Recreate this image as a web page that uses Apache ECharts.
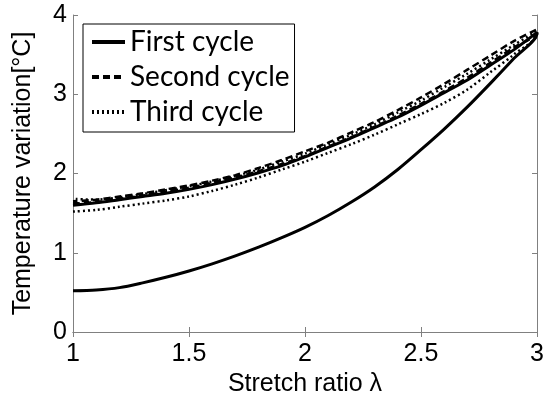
<!DOCTYPE html>
<html>
<head>
<meta charset="utf-8">
<script src="https://cdn.jsdelivr.net/npm/echarts@6/dist/echarts.min.js"></script>
<style>
  html, body { margin: 0; padding: 0; background: #fff; }
  #chart { width: 553px; height: 406px; }
</style>
</head>
<body>
<div id="chart"></div>
<script>
// Stretch ratio grid shared by every branch of the loops
const stretchRatio = [1.0, 1.1, 1.2, 1.3, 1.4, 1.5, 1.6, 1.7, 1.8, 1.9, 2.0,
                      2.1, 2.2, 2.3, 2.4, 2.5, 2.6, 2.7, 2.8, 2.9, 3.0];

// Temperature variation [°C], loading (stretch up) and unloading (stretch down)
const firstLoading   = [0.52, 0.53, 0.56, 0.62, 0.69, 0.77, 0.86, 0.96, 1.07, 1.19, 1.32,
                        1.47, 1.64, 1.83, 2.05, 2.30, 2.56, 2.84, 3.14, 3.45, 3.77];
const firstUnloading = [1.60, 1.63, 1.67, 1.71, 1.75, 1.80, 1.86, 1.93, 2.01, 2.10, 2.21,
                        2.33, 2.45, 2.58, 2.71, 2.86, 3.02, 3.18, 3.37, 3.56, 3.78];
const secondLoading  = [1.62, 1.64, 1.68, 1.72, 1.77, 1.82, 1.88, 1.95, 2.03, 2.12, 2.22,
                        2.34, 2.46, 2.59, 2.73, 2.88, 3.04, 3.21, 3.40, 3.59, 3.78];
const secondUnloading= [1.65, 1.67, 1.71, 1.75, 1.80, 1.85, 1.91, 1.98, 2.07, 2.17, 2.28,
                        2.39, 2.52, 2.65, 2.80, 2.96, 3.13, 3.31, 3.49, 3.67, 3.82];
const thirdLoading   = [1.52, 1.54, 1.58, 1.62, 1.66, 1.71, 1.78, 1.86, 1.95, 2.05, 2.15,
                        2.26, 2.37, 2.49, 2.62, 2.75, 2.89, 3.06, 3.28, 3.50, 3.76];
const thirdUnloading = [1.68, 1.67, 1.70, 1.74, 1.79, 1.84, 1.90, 1.97, 2.05, 2.15, 2.25,
                        2.37, 2.49, 2.62, 2.77, 2.92, 3.09, 3.26, 3.44, 3.62, 3.80];

const cycleNames = ['First cycle', 'Second cycle', 'Third cycle'];
const xTicks = [1, 1.5, 2, 2.5, 3];
const yTicks = [0, 1, 2, 3, 4];

// One closed loop per cycle: go up along loading, come back along unloading
function loop(loading, unloading) {
  const up = stretchRatio.map((x, i) => [x, loading[i]]);
  const down = stretchRatio.map((x, i) => [x, unloading[i]]).reverse();
  return up.concat(down);
}

const axisGray = '#808080';
const tickFont = { color: '#000', fontFamily: 'Liberation Sans, Arial, sans-serif', fontSize: 25 };

const chart = echarts.init(document.getElementById('chart'), null, { renderer: 'canvas' });

chart.setOption({
  animation: false,
  backgroundColor: '#fff',
  grid: { left: 73, right: 16, top: 15, bottom: 74, containLabel: false, outerBoundsMode: 'none' },
  legend: {
    left: 83, top: 24,
    orient: 'vertical',
    data: cycleNames,
    backgroundColor: '#fff',
    borderColor: '#000', borderWidth: 1, borderRadius: 0,
    padding: [4, 5, 6, 7],
    itemWidth: 33, itemHeight: 14, itemGap: 7,
    itemStyle: { opacity: 0 },
    lineStyle: { width: 4 },
    textStyle: { color: '#000', fontFamily: 'Lato, Open Sans, sans-serif', fontSize: 28, lineHeight: 28 }
  },
  xAxis: [{
    type: 'value', min: xTicks[0], max: xTicks[xTicks.length - 1], interval: 0.5,
    name: 'Stretch ratio λ', nameLocation: 'middle', nameGap: 39,
    nameTextStyle: tickFont,
    axisLine: { lineStyle: { color: axisGray, width: 1 } },
    axisTick: { inside: true, length: 5, lineStyle: { color: axisGray } },
    axisLabel: Object.assign({ margin: 10 }, tickFont),
    splitLine: { show: false }
  }, {
    type: 'value', position: 'top', min: xTicks[0], max: xTicks[xTicks.length - 1], interval: 0.5,
    axisLine: { lineStyle: { color: axisGray, width: 1 } },
    axisTick: { inside: true, length: 5, lineStyle: { color: axisGray } },
    axisLabel: { show: false }, splitLine: { show: false }
  }],
  yAxis: [{
    type: 'value', min: yTicks[0], max: yTicks[yTicks.length - 1], interval: 1,
    name: 'Temperature variation[°C]', nameLocation: 'middle', nameGap: 37,
    nameTextStyle: tickFont,
    axisLine: { show: true, lineStyle: { color: axisGray, width: 1 } },
    axisTick: { show: true, inside: true, length: 5, lineStyle: { color: axisGray } },
    axisLabel: Object.assign({ margin: 6 }, tickFont),
    splitLine: { show: false }
  }, {
    type: 'value', position: 'right', min: yTicks[0], max: yTicks[yTicks.length - 1], interval: 1,
    axisLine: { show: true, lineStyle: { color: axisGray, width: 1 } },
    axisTick: { show: true, inside: true, length: 5, lineStyle: { color: axisGray } },
    axisLabel: { show: false }, splitLine: { show: false }
  }],
  series: [
    {
      name: cycleNames[0], type: 'line', xAxisIndex: 0, yAxisIndex: 0,
      data: loop(firstLoading, firstUnloading),
      showSymbol: false, symbol: 'none', smooth: 0.3,
      lineStyle: { color: '#000', width: 3, type: 'solid' }, itemStyle: { color: '#000' }
    },
    {
      name: cycleNames[1], type: 'line', xAxisIndex: 0, yAxisIndex: 0,
      data: loop(secondLoading, secondUnloading),
      showSymbol: false, symbol: 'none', smooth: 0.3,
      lineStyle: { color: '#000', width: 2.5, type: [7, 4] }, itemStyle: { color: '#000' }
    },
    {
      name: cycleNames[2], type: 'line', xAxisIndex: 0, yAxisIndex: 0,
      data: loop(thirdLoading, thirdUnloading),
      showSymbol: false, symbol: 'none', smooth: 0.3,
      lineStyle: { color: '#000', width: 2.5, type: [2, 3] }, itemStyle: { color: '#000' }
    }
  ]
});
</script>
</body>
</html>
